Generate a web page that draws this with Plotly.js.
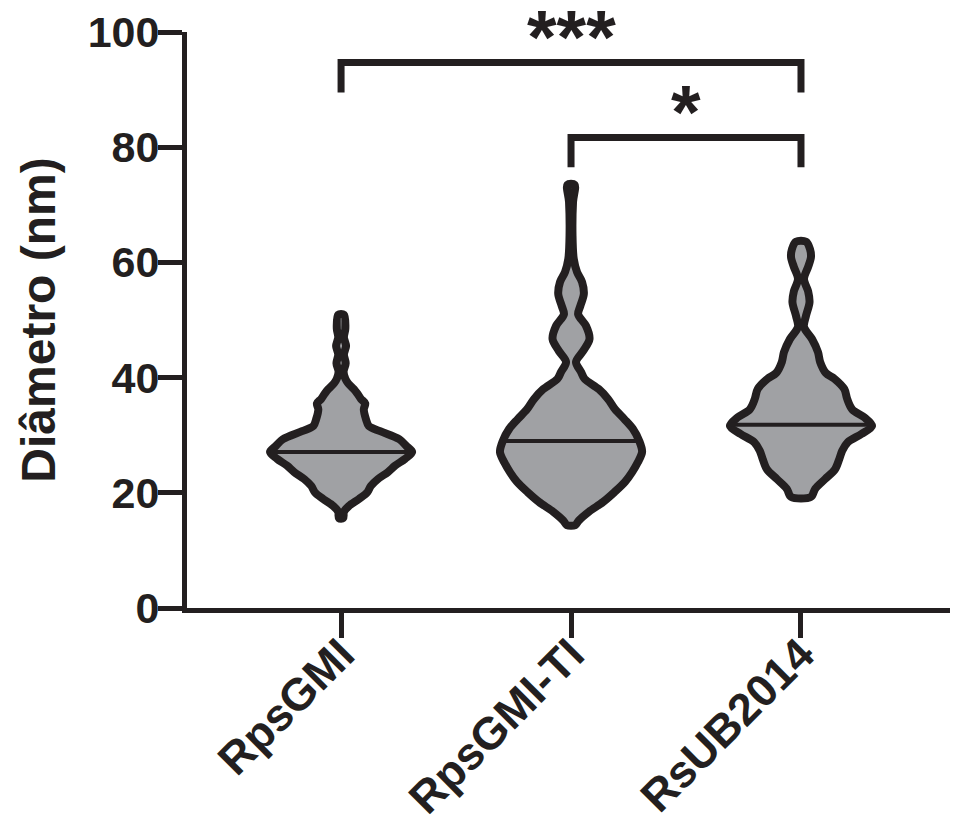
<!DOCTYPE html>
<html>
<head>
<meta charset="utf-8">
<script src="https://cdn.plot.ly/plotly-3.0.1.min.js"></script>
<style>html,body{margin:0;padding:0;background:#fff;}#chart{width:953px;height:829px;}</style>
</head>
<body>
<div id="chart"></div>
<script>
// ---- data ----
const categories = ['RpsGMI', 'RpsGMI-TI', 'RsUB2014'];
const yTickVals = [0, 20, 40, 60, 80, 100];

// violin density profiles (diameter in nm, relative half-width 0..1)
const rpsgmiY = [15.6, 16.7, 17.7, 18.9, 20.1, 21.2, 22.4, 23.6, 24.7, 25.9, 27.1, 28.1, 29.3, 30.7, 31.6, 32.8, 34.5, 35.5, 36.3, 37.2, 38.0, 39.0, 39.8, 41.0, 42.5, 44.0, 45.5, 47.0, 48.5, 50.9];
const rpsgmiD = [0.03, 0.04, 0.11, 0.25, 0.37, 0.42, 0.52, 0.66, 0.76, 0.90, 1.00, 0.92, 0.82, 0.55, 0.39, 0.35, 0.32, 0.34, 0.28, 0.23, 0.18, 0.10, 0.06, 0.035, 0.065, 0.04, 0.07, 0.04, 0.06, 0.04];

const rpsgmiTiY = [14.4, 15.2, 16.7, 18.4, 20.1, 21.9, 23.6, 25.3, 27.1, 29.0, 31.1, 32.8, 34.5, 36.3, 38.0, 39.8, 41.0, 42.7, 44.6, 46.7, 49.0, 51.0, 52.4, 54.5, 56.6, 58.3, 60.6, 64.6, 70.5, 73.5];
const rpsgmiTiD = [0.06, 0.11, 0.25, 0.45, 0.61, 0.76, 0.86, 0.94, 1.00, 0.96, 0.87, 0.75, 0.62, 0.52, 0.39, 0.19, 0.14, 0.07, 0.17, 0.26, 0.21, 0.10, 0.13, 0.18, 0.155, 0.085, 0.038, 0.021, 0.028, 0.05];

const rsub2014Y = [19.3, 20.7, 22.4, 24.1, 25.9, 27.3, 28.8, 30.2, 31.6, 33.1, 34.5, 36.3, 38.0, 39.8, 40.8, 42.7, 44.4, 46.7, 48.8, 50.7, 53.1, 55.0, 57.1, 59.2, 60.9, 62.3, 63.6];
const rsub2014D = [0.14, 0.20, 0.34, 0.48, 0.54, 0.58, 0.66, 0.85, 1.00, 0.89, 0.72, 0.65, 0.61, 0.47, 0.35, 0.27, 0.24, 0.155, 0.042, 0.07, 0.12, 0.10, 0.042, 0.10, 0.14, 0.127, 0.07];

const medians = [27.1, 29.0, 31.8];

// significance brackets
const bracketFrom = [0, 1];
const bracketTo = [2, 2];
const bracketY = [94.7, 81.7];
const bracketLabels = ['***', '*'];

// ---- styling ----
const INK = '#231f20';
const FILL = '#a0a1a4';
const HALF = 0.309;   // max half-width in category units
const DROP = 5.2;
const FONT = 'Liberation Sans, Arial, Helvetica, sans-serif';

const profiles = [[rpsgmiY, rpsgmiD], [rpsgmiTiY, rpsgmiTiD], [rsub2014Y, rsub2014D]];

function interp(ys, ds, v) {
  for (let i = 0; i < ys.length - 1; i++) {
    if (v >= ys[i] && v <= ys[i + 1]) {
      const t = (v - ys[i]) / (ys[i + 1] - ys[i]);
      return ds[i] + t * (ds[i + 1] - ds[i]);
    }
  }
  return 0;
}

const traces = [];
profiles.forEach(([ys, ds], idx) => {
  const xs = [], yy = [];
  for (let i = 0; i < ys.length; i++) { xs.push(idx + ds[i] * HALF); yy.push(ys[i]); }
  for (let i = ys.length - 1; i >= 0; i--) { xs.push(idx - ds[i] * HALF); yy.push(ys[i]); }
  xs.push(xs[0]); yy.push(yy[0]);
  traces.push({
    type: 'scatter', mode: 'lines', x: xs, y: yy, fill: 'toself', fillcolor: FILL,
    line: {color: INK, width: 8, shape: 'spline', smoothing: 0.9},
    hoverinfo: 'skip', showlegend: false
  });
  const w = interp(ys, ds, medians[idx]) * HALF;
  traces.push({
    type: 'scatter', mode: 'lines', x: [idx - w, idx + w], y: [medians[idx], medians[idx]],
    line: {color: INK, width: 4}, hoverinfo: 'skip', showlegend: false
  });
});

const annotations = [];
bracketFrom.forEach((a, i) => {
  const b = bracketTo[i], y = bracketY[i];
  traces.push({
    type: 'scatter', mode: 'lines', x: [a, a, b, b], y: [y - DROP, y, y, y - DROP],
    line: {color: INK, width: 7}, hoverinfo: 'skip', showlegend: false, cliponaxis: false
  });
  annotations.push({
    x: (a + b) / 2, y: y + 4.5, xref: 'x', yref: 'y', text: '<b>' + bracketLabels[i] + '</b>',
    showarrow: false, xanchor: 'center', yanchor: 'middle', borderpad: 0,
    font: {family: FONT, size: 76, color: INK}
  });
});

const layout = {
  width: 953, height: 829,
  margin: {l: 187, r: 3, t: 32, b: 221, pad: 0},
  paper_bgcolor: '#fff', plot_bgcolor: '#fff',
  showlegend: false,
  xaxis: {
    range: [-0.670, 2.648], tickvals: [0, 1, 2], ticktext: categories,
    tickangle: -45, ticks: 'outside', ticklen: 25, tickwidth: 5, tickcolor: INK,
    showline: true, linewidth: 5, linecolor: INK, showgrid: false, zeroline: false,
    ticklabelstandoff: -28,
    tickfont: {family: FONT, size: 45, color: INK, weight: 'bold'}
  },
  yaxis: {
    range: [0, 100], tickvals: yTickVals,
    ticks: 'outside', ticklen: 24, tickwidth: 5, tickcolor: INK,
    showline: true, linewidth: 5, linecolor: INK, showgrid: false, zeroline: false,
    ticklabelstandoff: -10,
    tickfont: {family: FONT, size: 43, color: INK, weight: 'bold'},
    title: {text: 'Diâmetro (nm)', font: {family: FONT, size: 48, color: INK, weight: 'bold'}, standoff: 18}
  },
  annotations: annotations
};

Plotly.newPlot('chart', traces, layout, {staticPlot: true, displayModeBar: false});
</script>
</body>
</html>
